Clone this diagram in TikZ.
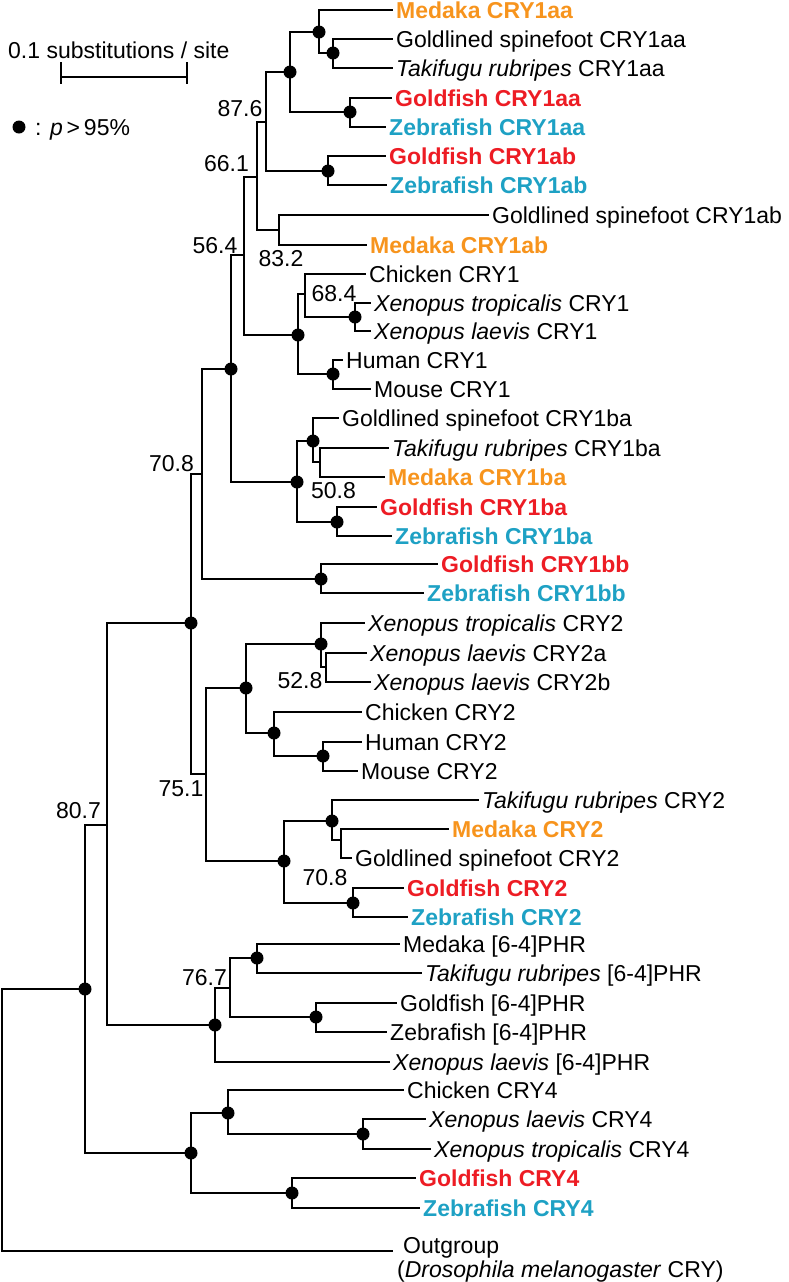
\documentclass[tikz,border=0pt]{standalone}
\usepackage{fontspec}
\setmainfont{Liberation Sans}
\definecolor{medaka}{RGB}{247,148,29}
\definecolor{goldred}{RGB}{237,28,36}
\definecolor{zebblue}{RGB}{30,161,196}
\newcommand\tfont{\fontsize{23bp}{27bp}\selectfont}
\begin{document}
\begin{tikzpicture}[x=1bp,y=-1bp,
  br/.style={line width=1.7bp},
  leaf/.style={anchor=west, inner xsep=3bp, inner ysep=0pt, text height=16.5bp, text depth=0pt, font=\tfont},
  med/.style={leaf, text=medaka, font=\tfont\bfseries},
  gfish/.style={leaf, text=goldred, font=\tfont\bfseries},
  zfish/.style={leaf, text=zebblue, font=\tfont\bfseries},
  lab/.style={inner sep=0pt, text height=16.5bp, text depth=0pt, font=\tfont},
  dot/.style={circle, fill=black, inner sep=0pt, minimum size=13bp}]
\useasboundingbox (0,0) rectangle (789,1282);

% scale bar and legend
\node[anchor=west, inner sep=0pt, font=\tfont, text height=16.5bp, text depth=0pt] (scaletxt) at (8,50) {0.1 substitutions / site};
\draw[br] (61,77) -- (187,77);
\draw[br] (61,62) -- (61,84);
\draw[br] (187,62) -- (187,84);
\node[dot] (legdot) at (19,127) {};
\node[anchor=west, inner sep=0pt, font=\tfont, text height=16.5bp, text depth=0pt] (legtxt) at (35,127) {: \textit{p}\,>\,95\%};

% leaves
\node[med]   (l0)  at (393,10)  {Medaka CRY1aa};
\node[leaf]  (l1)  at (393,39)  {Goldlined spinefoot CRY1aa};
\node[leaf]  (l2)  at (393,68)  {\textit{Takifugu rubripes} CRY1aa};
\node[gfish] (l3)  at (392,98)  {Goldfish CRY1aa};
\node[zfish] (l4)  at (386,127) {Zebrafish CRY1aa};
\node[gfish] (l5)  at (386,156) {Goldfish CRY1ab};
\node[zfish] (l6)  at (387,185) {Zebrafish CRY1ab};
\node[leaf]  (l7)  at (489,215) {Goldlined spinefoot CRY1ab};
\node[med]   (l8)  at (367,245) {Medaka CRY1ab};
\node[leaf]  (l9)  at (366,274) {Chicken CRY1};
\node[leaf]  (l10) at (371,303) {\textit{Xenopus tropicalis} CRY1};
\node[leaf]  (l11) at (371,331) {\textit{Xenopus laevis} CRY1};
\node[leaf]  (l12) at (343,360) {Human CRY1};
\node[leaf]  (l13) at (371,389) {Mouse CRY1};
\node[leaf]  (l14) at (339,418) {Goldlined spinefoot CRY1ba};
\node[leaf]  (l15) at (389,448) {\textit{Takifugu rubripes} CRY1ba};
\node[med]   (l16) at (385,477) {Medaka CRY1ba};
\node[gfish] (l17) at (377,507) {Goldfish CRY1ba};
\node[zfish] (l18) at (392,536) {Zebrafish CRY1ba};
\node[gfish] (l19) at (438,564) {Goldfish CRY1bb};
\node[zfish] (l20) at (424,593) {Zebrafish CRY1bb};
\node[leaf]  (l21) at (365,623) {\textit{Xenopus tropicalis} CRY2};
\node[leaf]  (l22) at (367,653) {\textit{Xenopus laevis} CRY2a};
\node[leaf]  (l23) at (371,682) {\textit{Xenopus laevis} CRY2b};
\node[leaf]  (l24) at (362,712) {Chicken CRY2};
\node[leaf]  (l25) at (362,742) {Human CRY2};
\node[leaf]  (l26) at (358,771) {Mouse CRY2};
\node[leaf]  (l27) at (479,800) {\textit{Takifugu rubripes} CRY2};
\node[med]   (l28) at (449,829) {Medaka CRY2};
\node[leaf]  (l29) at (352,858) {Goldlined spinefoot CRY2};
\node[gfish] (l30) at (404,888) {Goldfish CRY2};
\node[zfish] (l31) at (408,917) {Zebrafish CRY2};
\node[leaf]  (l32) at (400,944) {Medaka [6-4]PHR};
\node[leaf]  (l33) at (422,973) {\textit{Takifugu rubripes} [6-4]PHR};
\node[leaf]  (l34) at (397,1003) {Goldfish [6-4]PHR};
\node[leaf]  (l35) at (387,1032) {Zebrafish [6-4]PHR};
\node[leaf]  (l36) at (390,1062) {\textit{Xenopus laevis} [6-4]PHR};
\node[leaf]  (l37) at (404,1090) {Chicken CRY4};
\node[leaf]  (l38) at (426,1119) {\textit{Xenopus laevis} CRY4};
\node[leaf]  (l39) at (431,1149) {\textit{Xenopus tropicalis} CRY4};
\node[gfish] (l40) at (416,1178) {Goldfish CRY4};
\node[zfish] (l41) at (420,1208) {Zebrafish CRY4};
\coordinate (og) at (393,1251);
\node[anchor=north west, align=left, inner sep=0pt, font=\fontsize{23bp}{24bp}\selectfont] (tOut) at (397,1237) {\hspace{6bp}Outgroup\\(\textit{Drosophila melanogaster} CRY)};

% internal nodes
\coordinate (A) at (319,32);
\coordinate (B) at (333,53);
\coordinate (C) at (290,72);
\coordinate (D) at (350,112);
\coordinate (E) at (266,122);
\coordinate (F) at (328,171);
\coordinate (G) at (257,177);
\coordinate (H) at (279,230);
\coordinate (I) at (244,255);
\coordinate (K) at (298,335);
\coordinate (L) at (305,294);
\coordinate (M) at (355,317);
\coordinate (N) at (333,374);
\coordinate (J) at (231,369);
\coordinate (O) at (297,482);
\coordinate (P) at (313,441);
\coordinate (Q) at (320,462);
\coordinate (R) at (337,522);
\coordinate (T) at (202,474);
\coordinate (S) at (321,579);
\coordinate (U) at (191,623);
\coordinate (V) at (206,774);
\coordinate (W) at (246,688);
\coordinate (X) at (321,644);
\coordinate (Y) at (326,667);
\coordinate (Z) at (274,733);
\coordinate (AA) at (323,756);
\coordinate (BB) at (284,861);
\coordinate (DD) at (332,821);
\coordinate (EE) at (341,840);
\coordinate (CC) at (353,903);
\coordinate (OO) at (107,825);
\coordinate (GG) at (215,1025);
\coordinate (HH) at (230,988);
\coordinate (II) at (257,958);
\coordinate (JJ) at (316,1017);
\coordinate (PP) at (85,989);
\coordinate (KK) at (191,1153);
\coordinate (LL) at (228,1113);
\coordinate (MM) at (363,1134);
\coordinate (NN) at (292,1193);
\coordinate (root) at (2,1120);

% branches
\draw[br] (A) |- (l0.west);  \draw[br] (A) |- (B);
\draw[br] (B) |- (l1.west);  \draw[br] (B) |- (l2.west);
\draw[br] (C) |- (A);        \draw[br] (C) |- (D);
\draw[br] (D) |- (l3.west);  \draw[br] (D) |- (l4.west);
\draw[br] (E) |- (C);        \draw[br] (E) |- (F);
\draw[br] (F) |- (l5.west);  \draw[br] (F) |- (l6.west);
\draw[br] (G) |- (E);        \draw[br] (G) |- (H);
\draw[br] (H) |- (l7.west);  \draw[br] (H) |- (l8.west);
\draw[br] (I) |- (G);        \draw[br] (I) |- (K);
\draw[br] (K) |- (L);        \draw[br] (K) |- (N);
\draw[br] (L) |- (l9.west);  \draw[br] (L) |- (M);
\draw[br] (M) |- (l10.west); \draw[br] (M) |- (l11.west);
\draw[br] (N) |- (l12.west); \draw[br] (N) |- (l13.west);
\draw[br] (J) |- (I);        \draw[br] (J) |- (O);
\draw[br] (O) |- (P);        \draw[br] (O) |- (R);
\draw[br] (P) |- (l14.west); \draw[br] (P) |- (Q);
\draw[br] (Q) |- (l15.west); \draw[br] (Q) |- (l16.west);
\draw[br] (R) |- (l17.west); \draw[br] (R) |- (l18.west);
\draw[br] (T) |- (J);        \draw[br] (T) |- (S);
\draw[br] (S) |- (l19.west); \draw[br] (S) |- (l20.west);
\draw[br] (U) |- (T);        \draw[br] (U) |- (V);
\draw[br] (V) |- (W);        \draw[br] (V) |- (BB);
\draw[br] (W) |- (X);        \draw[br] (W) |- (Z);
\draw[br] (X) |- (l21.west); \draw[br] (X) |- (Y);
\draw[br] (Y) |- (l22.west); \draw[br] (Y) |- (l23.west);
\draw[br] (Z) |- (l24.west); \draw[br] (Z) |- (AA);
\draw[br] (AA) |- (l25.west); \draw[br] (AA) |- (l26.west);
\draw[br] (BB) |- (DD);      \draw[br] (BB) |- (CC);
\draw[br] (DD) |- (l27.west); \draw[br] (DD) |- (EE);
\draw[br] (EE) |- (l28.west); \draw[br] (EE) |- (l29.west);
\draw[br] (CC) |- (l30.west); \draw[br] (CC) |- (l31.west);
\draw[br] (OO) |- (U);       \draw[br] (OO) |- (GG);
\draw[br] (GG) |- (HH);      \draw[br] (GG) |- (l36.west);
\draw[br] (HH) |- (II);      \draw[br] (HH) |- (JJ);
\draw[br] (II) |- (l32.west); \draw[br] (II) |- (l33.west);
\draw[br] (JJ) |- (l34.west); \draw[br] (JJ) |- (l35.west);
\draw[br] (PP) |- (OO);      \draw[br] (PP) |- (KK);
\draw[br] (KK) |- (LL);      \draw[br] (KK) |- (NN);
\draw[br] (LL) |- (l37.west); \draw[br] (LL) |- (MM);
\draw[br] (MM) |- (l38.west); \draw[br] (MM) |- (l39.west);
\draw[br] (NN) |- (l40.west); \draw[br] (NN) |- (l41.west);
\draw[br] (root) |- (PP);    \draw[br] (root) |- (og);

% support dots
\foreach \n in {A,B,C,D,F,K,M,N,J,O,P,R,S,U,W,X,Z,AA,BB,DD,CC,GG,II,JJ,PP,KK,LL,MM,NN}
  \node[dot] (dot\n) at (\n) {};

% bootstrap labels
\node[lab] (b876) at (240,108) {87.6};
\node[lab] (b661) at (226.5,163) {66.1};
\node[lab] (b832) at (281,258) {83.2};
\node[lab] (b564) at (215,245) {56.4};
\node[lab] (b684) at (334,293) {68.4};
\node[lab] (b508) at (333.5,490) {50.8};
\node[lab] (b708a) at (171.5,463) {70.8};
\node[lab] (b751) at (181,788) {75.1};
\node[lab] (b528) at (300,680) {52.8};
\node[lab] (b708b) at (325,877) {70.8};
\node[lab] (b807) at (78.5,810) {80.7};
\node[lab] (b767) at (204.5,977) {76.7};
\end{tikzpicture}
\end{document}
